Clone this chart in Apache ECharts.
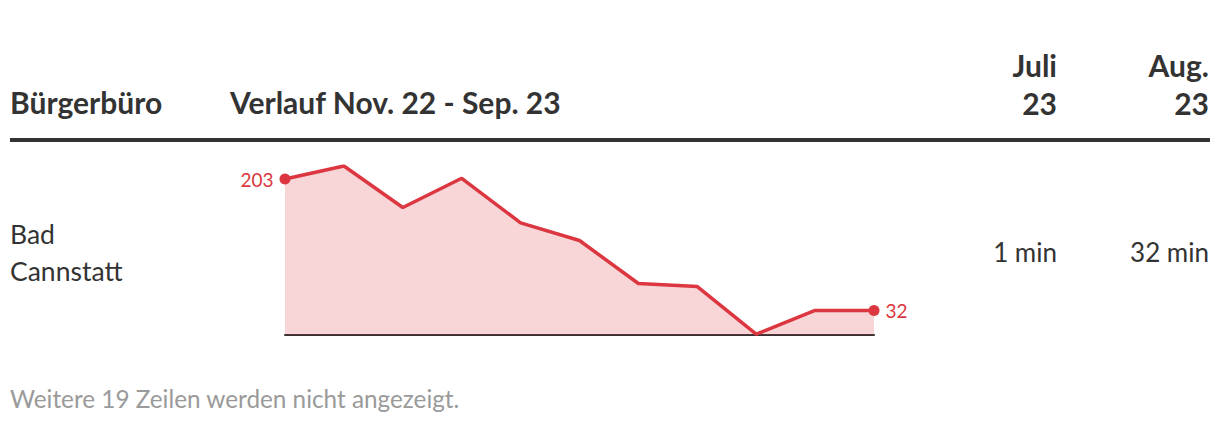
<!DOCTYPE html>
<html>
<head>
<meta charset="utf-8">
<script src="https://cdn.jsdelivr.net/npm/echarts@6/dist/echarts.min.js"></script>
<style>
html,body{margin:0;padding:0;background:#fff;}
#c{width:1220px;height:426px;}
</style>
</head>
<body>
<div id="c"></div>
<script>
// Data
const months = ['Nov. 22','Dez. 22','Jan. 23','Feb. 23','März 23','Apr. 23','Mai 23','Juni 23','Juli 23','Aug. 23','Sep. 23'];
const waitMinutes = [203, 220, 166, 204, 146, 123, 67, 63, 1, 32, 32];
const headerOffice = 'Bürgerbüro';
const headerTrend = 'Verlauf Nov. 22 - Sep. 23';
const headerJuli = ['Juli', '23'];
const headerAug = ['Aug.', '23'];
const rowName = ['Bad', 'Cannstatt'];
const valueJuli = '1 min';
const valueAug = '32 min';
const footnote = 'Weitere 19 Zeilen werden nicht angezeigt.';

const FONT = 'Lato, "Source Sans Pro", "Noto Sans", sans-serif';
const RED = '#dc3740';
const DARK = '#333333';

const chart = echarts.init(document.getElementById('c'), null, {renderer: 'svg'});
const last = waitMinutes.length - 1;
const seriesData = waitMinutes.map((v, i) => {
  if (i === 0) return {value: v, symbolSize: 11, label: {show: true, position: 'left', distance: 6}};
  if (i === last) return {value: v, symbolSize: 11, label: {show: true, position: 'right', distance: 6}};
  return {value: v, symbolSize: 0, symbol: 'none'};
});

chart.setOption({
  animation: false,
  grid: {left: 285, right: 346, top: 166, height: 169, containLabel: false},
  xAxis: {
    type: 'category', data: months, boundaryGap: false,
    axisLine: {show: true, lineStyle: {color: DARK, width: 2}},
    axisTick: {show: false}, axisLabel: {show: false}, splitLine: {show: false}
  },
  yAxis: {
    type: 'value', min: 0, max: 220, show: false, splitLine: {show: false}
  },
  series: [{
    type: 'line', data: seriesData, showSymbol: true, symbol: 'circle',
    lineStyle: {color: RED, width: 3.5},
    itemStyle: {color: RED},
    areaStyle: {color: 'rgba(220,55,64,0.21)', opacity: 1, origin: 'start'},
    label: {color: RED, fontFamily: FONT, fontSize: 19},
    z: 3
  }],
  graphic: [
    {type: 'text', left: 10, top: 87, style: {text: headerOffice, font: 'bold 30px ' + FONT, fill: DARK}},
    {type: 'text', left: 230, top: 87, style: {text: headerTrend, font: 'bold 30px ' + FONT, fill: DARK}},
    {type: 'text', x: 1057, y: 46, style: {text: headerJuli.join('\n'), font: 'bold 30px ' + FONT, fill: DARK, align: 'right', lineHeight: 38}},
    {type: 'text', x: 1209, y: 46, style: {text: headerAug.join('\n'), font: 'bold 30px ' + FONT, fill: DARK, align: 'right', lineHeight: 38}},
    {type: 'rect', shape: {x: 10, y: 138, width: 1200, height: 4}, style: {fill: DARK}},
    {type: 'text', left: 10, top: 215, style: {text: rowName.join('\n'), font: '26.5px ' + FONT, fill: DARK, lineHeight: 37}},
    {type: 'text', x: 1057, y: 239, style: {text: valueJuli, font: '26px ' + FONT, fill: DARK, align: 'right'}},
    {type: 'text', x: 1209, y: 239, style: {text: valueAug, font: '26px ' + FONT, fill: DARK, align: 'right'}},
    {type: 'text', left: 10, top: 386, style: {text: footnote, font: '24.3px ' + FONT, fill: '#9a9a9a'}}
  ]
});
</script>
</body>
</html>
